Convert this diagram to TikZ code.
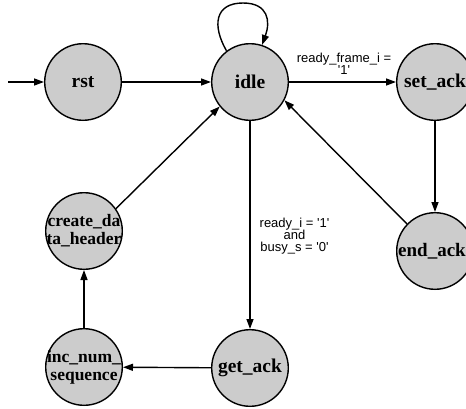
\documentclass[tikz,border=0pt]{standalone}
\usepackage{fontspec}
\setmainfont{Liberation Serif}
\newfontfamily\condfont{Liberation Sans}[Ligatures=TeXOff]
\usetikzlibrary{arrows.meta}
\definecolor{stategray}{HTML}{CCCCCC}
\begin{document}
\begin{tikzpicture}[x=1pt,y=-1pt,
  state/.style={circle, draw=black, line width=1.4pt, fill=stategray,
                minimum size=76.6pt, inner sep=0pt},
  statename/.style={font=\fontsize{19.5}{22}\selectfont\bfseries, inner sep=0pt},
  statename2/.style={font=\fontsize{17.5}{18}\selectfont\bfseries, align=center, inner sep=0pt},
  cond/.style={font=\condfont\fontsize{13}{12.2}\selectfont, align=center, inner sep=0pt},
  trans/.style={line width=1.4pt, -{Triangle[length=10pt,width=7pt]}},
]
\useasboundingbox (0,0) rectangle (466,408);

% states
\node[state] (rst) at (83,82) {};
\node[state] (idle) at (250,82) {};
\node[state] (setack) at (435,82) {};
\node[state] (endack) at (435,251) {};
\node[state] (create) at (84,231) {};
\node[state] (inc) at (84,367) {};
\node[state] (getack) at (250,368) {};

% state names
\node[statename] (rst-t) at (rst) {rst};
\node[statename] (idle-t) at (idle) {idle};
\node[statename] (setack-t) at (setack) {set\_ack};
\node[statename, xshift=-3pt, font=\fontsize{19}{22}\selectfont\bfseries] (endack-t) at (endack) {end\_ack};
\node[statename] (getack-t) at (getack) {get\_ack};
\node[statename2] (create-t) at (create) {create\_da\\ta\_header};
\node[statename2] (inc-t) at (inc) {inc\_num\_\\sequence};

% transitions
\coordinate (entry) at (8,82);
\coordinate (loop-top) at (243,3);
\draw[trans] (entry) -- (rst);
\draw[trans] (rst) -- (idle);
\draw[trans] (idle.127) to[out=120,in=180,looseness=1.45] (loop-top)
                        to[out=0,in=70,looseness=1.4] (idle.72);
\draw[trans] (idle) -- (setack);
\draw[trans] (setack) -- (endack);
\draw[trans] (endack.136) -- (idle.-28);
\draw[trans] (idle) -- (getack);
\draw[trans] (getack) -- (inc);
\draw[trans] (inc) -- (create);
\draw[trans] (create.35) -- (idle.219);

% conditions
\node[cond] (cond-frame) at (344,64) {ready\_frame\_i =\\'1'};
\node[cond] (cond-ready) at (294.5,236) {ready\_i = '1'\\and\\busy\_s = '0'};
\end{tikzpicture}
\end{document}
